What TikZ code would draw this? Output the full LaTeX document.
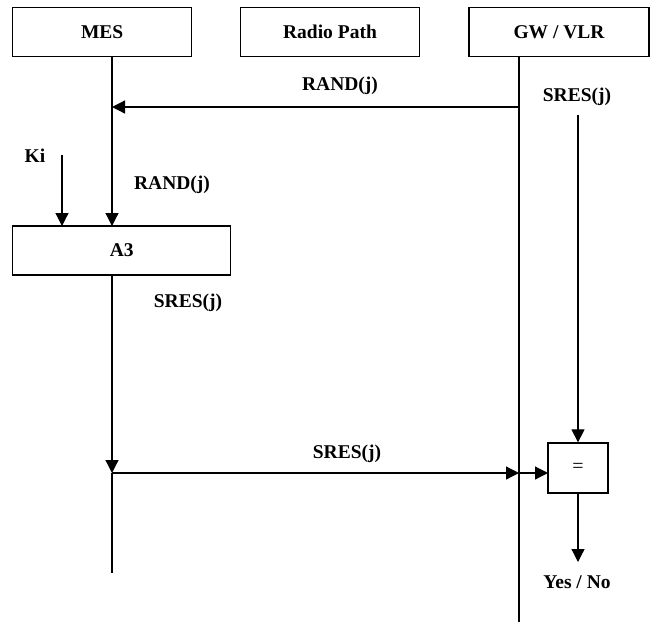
\documentclass[tikz,border=0pt]{standalone}
\usepackage{fontspec}
\setmainfont{Liberation Serif}
\usetikzlibrary{arrows.meta}
\begin{document}
\begin{tikzpicture}[x=1pt,y=-1pt,
  every node/.style={font=\fontsize{19.5}{22}\selectfont\bfseries, inner sep=0pt},
  box/.style={draw, line width=1.3pt, minimum height=49.4pt},
  lbl/.style={},
  ln/.style={line width=1.2pt},
  arr/.style={line width=1.2pt, -{Triangle[length=13pt,width=13pt]}}
]
\useasboundingbox (0,0) rectangle (650,622);
% header boxes
\node[box, minimum width=179pt] (mes) at (102.2,32) {MES};
\node[box, minimum width=178.6pt] (radio) at (330,32) {Radio Path};
\node[box, minimum width=180pt] (gw) at (559,32) {GW / VLR};
% A3 box and compare box
\node[box, minimum width=218pt, minimum height=49pt] (a3) at (121.7,250.5) {A3};
\node[box, minimum width=60pt, minimum height=50pt, font=\fontsize{20}{22}\selectfont] (eq) at (578,468) {\raisebox{-2pt}{=}};
% coordinates
\coordinate (mesTop) at (112,56.7);
\coordinate (a3In) at (112,226);
\coordinate (a3Out) at (112,275);
\coordinate (mesJ) at (112,473);
\coordinate (mesEnd) at (112,573);
\coordinate (gwTop) at (519,56.7);
\coordinate (gwR) at (519,107);
\coordinate (mesR) at (112,107);
\coordinate (gwJ) at (519,473);
\coordinate (gwEnd) at (519,622);
\coordinate (eqIn) at (548,473);
\coordinate (sresTop) at (578,115);
\coordinate (kiTop) at (62,155);
\coordinate (kiIn) at (62,226);
\coordinate (ynEnd) at (578,562);
% labels
\node[lbl] (lrand) at (340,86) {RAND(j)};
\node[lbl] (lsresgw) at (577,97) {SRES(j)};
\node[lbl] (lki) at (35,156) {Ki};
\node[lbl] (lrand2) at (172,185) {RAND(j)};
\node[lbl] (lsres2) at (188,303) {SRES(j)};
\node[lbl] (lsres3) at (347,454) {SRES(j)};
\node[lbl] (lyn) at (577,582) {Yes / No};
% lifelines
\draw[arr] (mesTop) -- (a3In);
\draw[arr] (a3Out) -- (mesJ);
\draw[ln] (mesJ) -- (mesEnd);
\draw[ln] (gwTop) -- (gwEnd);
% messages
\draw[arr] (gwR) -- (mesR);
\draw[arr] (mesJ) -- (gwJ);
\draw[arr] (gwJ) -- (eqIn);
\draw[arr] (kiTop) -- (kiIn);
\draw[arr] (sresTop) -- (eq.north);
\draw[arr] (eq.south) -- (ynEnd);
\end{tikzpicture}
\end{document}
